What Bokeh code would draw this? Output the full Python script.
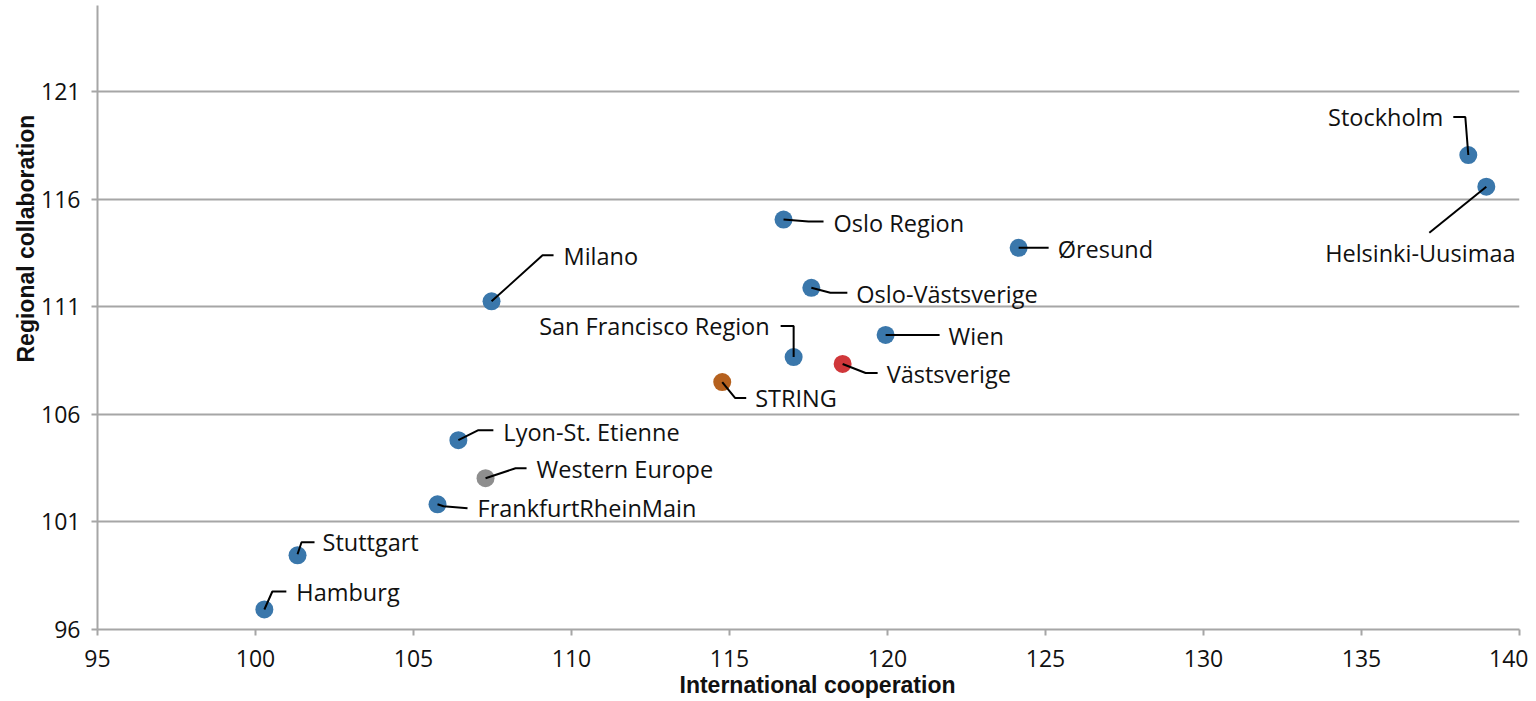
from bokeh.plotting import figure
from bokeh.models import ColumnDataSource, FixedTicker, LabelSet, Title
from bokeh.core.properties import field, value
from bokeh.embed import file_html
from bokeh.resources import INLINE

# ---- data ----
names = ["Hamburg", "Stuttgart", "FrankfurtRheinMain", "Western Europe",
         "Lyon-St. Etienne", "Milano", "STRING", "San Francisco Region",
         "Oslo Region", "Oslo-Västsverige", "Västsverige", "Wien",
         "Øresund", "Stockholm", "Helsinki-Uusimaa"]
international = [100.28, 101.33, 105.76, 107.28, 106.42, 107.47, 114.77, 117.03,
                 116.71, 117.59, 118.58, 119.94, 124.15, 138.38, 138.95]
regional = [96.93, 99.45, 101.82, 103.03, 104.80, 111.25, 107.50, 108.66,
            115.05, 111.88, 108.34, 109.69, 113.74, 118.05, 116.58]
x_ticks = [95, 100, 105, 110, 115, 120, 125, 130, 135, 140]
y_ticks = [96, 101, 106, 111, 116, 121]
x_title = "International cooperation"
y_title = "Regional collaboration"

# ---- styles / layout ----
BLUE, RED, ORANGE, GRAY = "#3a77ab", "#d0373a", "#b5611e", "#8e8e8e"
special_colors = {"Western Europe": GRAY, "STRING": ORANGE, "Västsverige": RED}
colors = [special_colors.get(n, BLUE) for n in names]

# label offset (px, screen: +y = down), alignment, leader path (px offsets)
label_layout = {
    "Hamburg": (32, -17, "left", [(0, 0), (8, -18), (22, -18)]),
    "Stuttgart": (25, -13, "left", [(0, -1), (4, -13), (17, -13)]),
    "FrankfurtRheinMain": (40, 4, "left", [(0, 0), (6, 2), (30, 4)]),
    "Western Europe": (51, -9, "left", [(0, 0), (30, -10), (41, -10)]),
    "Lyon-St. Etienne": (45, -8, "left", [(0, 0), (20, -10), (35, -10)]),
    "Milano": (72, -45, "left", [(0, 0), (51, -46), (62, -46)]),
    "STRING": (33, 16, "left", [(0, 0), (13, 16), (24, 16)]),
    "San Francisco Region": (-24, -31, "right", [(0, 0), (0, -31), (-13, -31)]),
    "Oslo Region": (50, 3, "left", [(0, 0), (25, 2), (40, 2)]),
    "Oslo-Västsverige": (45, 6, "left", [(0, 0), (19, 5), (36, 5)]),
    "Västsverige": (44, 10, "left", [(0, 0), (23, 9), (35, 9)]),
    "Wien": (63, 1, "left", [(0, 0), (54, 0)]),
    "Øresund": (39, 1, "left", [(0, 0), (30, 0)]),
    "Stockholm": (-25, -38, "right", [(0, 0), (-3, -38), (-15, -38)]),
    "Helsinki-Uusimaa": (-66, 66, "center", [(0, 0), (-57, 46)]),
}

X0, X1 = 95, 140
Y0, Y1 = 96, 125
FRAME_W, FRAME_H = 1422, 624
BL, BR, BT = 97, 9, 5
W = BL + FRAME_W + BR
H = 700
sx = FRAME_W / (X1 - X0)
sy = FRAME_H / (Y1 - Y0)

p = figure(width=W, height=H, x_range=(X0, X1), y_range=(Y0, Y1),
           output_backend="svg", toolbar_location=None,
           min_border_left=BL, min_border_right=BR, min_border_top=BT,
           min_border_bottom=H - FRAME_H - BT)
p.outline_line_color = None

p.xgrid.visible = False
p.ygrid.ticker = FixedTicker(ticks=y_ticks)
p.ygrid.grid_line_color = "#a6a6a6"
p.ygrid.grid_line_width = 2

for ax, ticks in ((p.xaxis, x_ticks), (p.yaxis, y_ticks)):
    ax.ticker = FixedTicker(ticks=ticks)
    ax.axis_line_color = "#a6a6a6"
    ax.axis_line_width = 2
    ax.major_tick_line_color = "#a6a6a6"
    ax.major_tick_line_width = 2
    ax.major_tick_out = 6
    ax.major_tick_in = 0
    ax.minor_tick_line_color = None
    ax.major_label_text_font = "Open Sans"
    ax.major_label_text_font_size = "23px"
    ax.major_label_text_color = "#111111"
p.xaxis.major_label_standoff = 14
p.yaxis.major_label_standoff = 11

src = ColumnDataSource(dict(x=international, y=regional, c=colors))
p.scatter("x", "y", source=src, size=18, fill_color="c", line_color=None)

# leader lines and labels
xs, ys = [], []
lx, ly, la, lt = [], [], [], []
for n, xv, yv in zip(names, international, regional):
    dx, dy, al, path = label_layout[n]
    xs.append([xv + a / sx for a, b in path])
    ys.append([yv - b / sy for a, b in path])
    lx.append(xv + dx / sx)
    ly.append(yv - dy / sy)
    la.append(al)
    lt.append(n)
p.multi_line(xs, ys, line_color="black", line_width=2)

lsrc = ColumnDataSource(dict(x=lx, y=ly, t=lt, a=la))
labels = LabelSet(x="x", y="y", text="t", source=lsrc,
                  text_align=field("a"), text_baseline="middle",
                  text_font=value("Open Sans"), text_font_size="23.5px",
                  text_color="#111111")
p.add_layout(labels)

# axis titles
p.add_layout(Title(text=x_title, align="left", offset=582,
                   text_font="Liberation Sans", text_font_style="bold",
                   text_font_size="23px", text_color="#111111",
                   standoff=0), "below")
p.add_layout(Title(text=y_title, align="left", offset=267,
                   text_font="Liberation Sans", text_font_style="bold",
                   text_font_size="23px", text_color="#111111",
                   standoff=0), "left")

open("out.html", "w").write(file_html(p, INLINE))
